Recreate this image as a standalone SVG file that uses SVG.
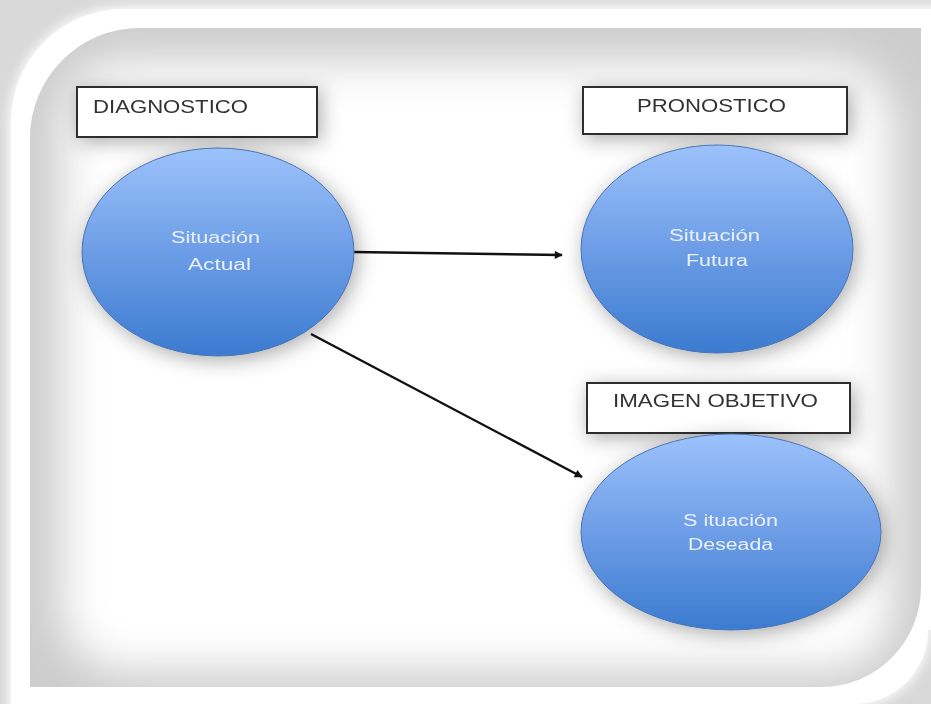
<svg xmlns="http://www.w3.org/2000/svg" width="931" height="704" viewBox="0 0 931 704">
<defs>
<linearGradient id="blue" x1="0" y1="0" x2="0" y2="1">
<stop offset="0" stop-color="#9cc2fb"/>
<stop offset="0.5" stop-color="#6d9de6"/>
<stop offset="1" stop-color="#3b7bd0"/>
</linearGradient>
<filter id="blur20" x="-20%" y="-20%" width="140%" height="140%"><feGaussianBlur stdDeviation="22"/></filter>
<filter id="blur6" x="-10%" y="-10%" width="120%" height="120%"><feGaussianBlur stdDeviation="6"/></filter>
<filter id="halo" x="-60%" y="-80%" width="220%" height="260%">
<feGaussianBlur in="SourceAlpha" stdDeviation="10"/>
<feOffset dx="3" dy="4" result="b"/>
<feFlood flood-color="#000" flood-opacity="0.33"/>
<feComposite in2="b" operator="in" result="s"/>
<feMerge><feMergeNode in="s"/><feMergeNode in="SourceGraphic"/></feMerge>
</filter>
<clipPath id="panelClip"><path d="M30,138 A110,110 0 0 1 140,28 L921,28 L921,587 A100,100 0 0 1 821,687 L30,687 Z"/></clipPath>
<marker id="arr" viewBox="0 0 10 10" refX="9" refY="5" markerWidth="9" markerHeight="8" markerUnits="userSpaceOnUse" orient="auto">
<path d="M0,0 L10,5 L0,10 Z" fill="#111"/>
</marker>
<style>
.box{fill:#fff;stroke:#2e2e2e;stroke-width:2}
.lbl{font-family:"Liberation Sans",Arial,sans-serif;fill:#333;font-size:19px}
.ell{fill:url(#blue);stroke:#4a72b0;stroke-width:1}
.etx{font-family:"Liberation Sans",Arial,sans-serif;fill:#e9f0fb;font-size:16px}
.con{stroke:#111;stroke-width:2.4;fill:none}
</style>
</defs>
<rect x="0" y="0" width="931" height="704" fill="#d9d9d9"/>
<path d="M9,122 A115,115 0 0 1 124,7 L960,7 L960,600 L930,600 L930,630 A76,76 0 0 1 854,706 L9,720 Z" fill="#fff" filter="url(#blur6)"/>
<path d="M11,122 A113,113 0 0 1 124,9 L931,9 L931,630 L928,630 A74,74 0 0 1 854,704 L854,710 L11,710 Z" fill="#fff"/>
<g clip-path="url(#panelClip)">
<rect x="30" y="28" width="891" height="659" fill="#cdcdcd"/>
<rect x="62" y="62" width="830" height="608" rx="60" fill="#fff" filter="url(#blur20)"/>
</g>
<g id="connectors">
<line class="con" x1="354" y1="252" x2="562" y2="255" marker-end="url(#arr)"/>
<line class="con" x1="311" y1="334" x2="582" y2="477" marker-end="url(#arr)"/>
</g>
<g id="diagnostico" filter="url(#halo)">
<rect class="box" x="77" y="87" width="240" height="50"/>
<text class="lbl" x="93" y="113" textLength="155" lengthAdjust="spacingAndGlyphs">DIAGNOSTICO</text>
</g>
<g id="pronostico" filter="url(#halo)">
<rect class="box" x="583" y="87" width="264" height="47"/>
<text class="lbl" x="637" y="112" textLength="149" lengthAdjust="spacingAndGlyphs">PRONOSTICO</text>
</g>
<g id="imagen-objetivo" filter="url(#halo)">
<rect class="box" x="587" y="383" width="263" height="50"/>
<text class="lbl" x="613" y="407" font-size="18" textLength="205" lengthAdjust="spacingAndGlyphs">IMAGEN OBJETIVO</text>
</g>
<g id="situacion-actual" filter="url(#halo)">
<ellipse class="ell" cx="218" cy="252" rx="136" ry="104"/>
<text class="etx" x="171" y="243" textLength="89" lengthAdjust="spacingAndGlyphs">Situación</text>
<text class="etx" x="188" y="270" textLength="63" lengthAdjust="spacingAndGlyphs">Actual</text>
</g>
<g id="situacion-futura" filter="url(#halo)">
<ellipse class="ell" cx="717" cy="249" rx="136" ry="104"/>
<text class="etx" x="669" y="241" textLength="91" lengthAdjust="spacingAndGlyphs">Situación</text>
<text class="etx" x="686" y="266" textLength="62" lengthAdjust="spacingAndGlyphs">Futura</text>
</g>
<g id="situacion-deseada" filter="url(#halo)">
<ellipse class="ell" cx="731" cy="532" rx="150" ry="98"/>
<text class="etx" x="683" y="526" textLength="95" lengthAdjust="spacingAndGlyphs">S ituación</text>
<text class="etx" x="688" y="550" textLength="85" lengthAdjust="spacingAndGlyphs">Deseada</text>
</g>
</svg>
